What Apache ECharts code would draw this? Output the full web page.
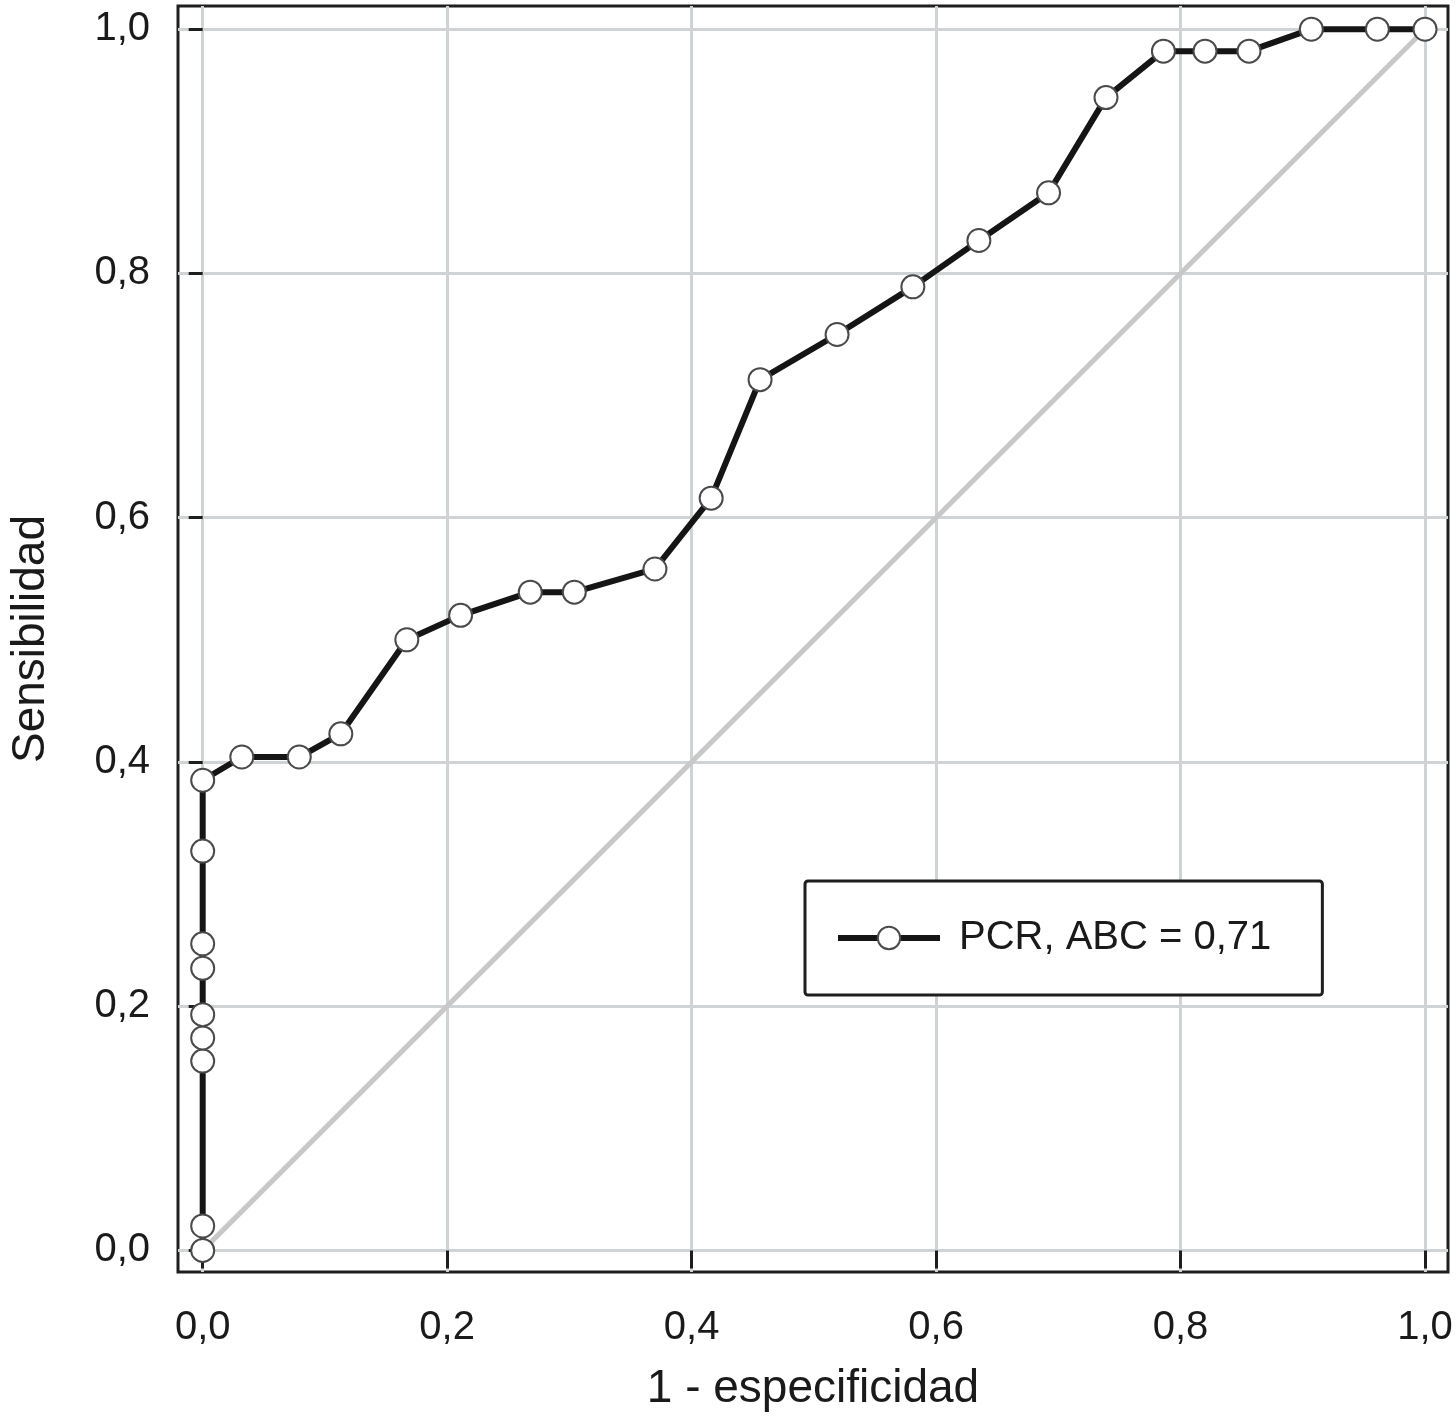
<!DOCTYPE html>
<html>
<head>
<meta charset="utf-8">
<script src="https://cdn.jsdelivr.net/npm/echarts@6/dist/echarts.min.js"></script>
<style>
html,body{margin:0;padding:0;background:#fff;}
#chart{width:1456px;height:1417px;}
</style>
</head>
<body>
<div id="chart"></div>
<script>
// 1 - especificidad (x) and Sensibilidad (y) for the PCR ROC curve
const fpr = [0, 0, 0, 0, 0, 0, 0, 0, 0,
  0.032, 0.079, 0.113, 0.167, 0.211, 0.268, 0.304, 0.370, 0.416, 0.456,
  0.519, 0.581, 0.635, 0.692, 0.739, 0.786, 0.820, 0.856, 0.907, 0.961, 1.0];
const tpr = [0, 0.020, 0.155, 0.174, 0.193, 0.231, 0.251, 0.327, 0.385,
  0.404, 0.404, 0.423, 0.500, 0.520, 0.539, 0.539, 0.558, 0.616, 0.713,
  0.750, 0.789, 0.827, 0.866, 0.944, 0.982, 0.982, 0.982, 1.0, 1.0, 1.0];
const refX = [0, 1];
const refY = [0, 1];
const tickValues = [0, 0.2, 0.4, 0.6, 0.8, 1.0];
const tickLabels = ['0,0', '0,2', '0,4', '0,6', '0,8', '1,0'];
const seriesName = 'PCR, ABC = 0,71';
const xTitle = '1 - especificidad';
const yTitle = 'Sensibilidad';

const rocData = fpr.map((x, i) => [x, tpr[i]]);
const refData = refX.map((x, i) => [x, refY[i]]);
const fmt = v => {
  const i = tickValues.findIndex(t => Math.abs(t - v) < 1e-6);
  return i >= 0 ? tickLabels[i] : '';
};
const FONT = 'Liberation Sans, Arial, Helvetica, sans-serif';
const gridColor = '#d0d3d6';

const chart = echarts.init(document.getElementById('chart'), null, {renderer: 'canvas'});
chart.setOption({
  animation: false,
  backgroundColor: '#ffffff',
  grid: {
    left: 176, right: 8, top: 6, bottom: 143,
    show: true, borderColor: '#1e1e1e', borderWidth: 3, backgroundColor: 'transparent'
  },
  legend: {
    data: [seriesName],
    left: 805, top: 881,
    padding: [37, 51, 37, 30],
    itemWidth: 102, itemHeight: 28,
    borderColor: '#1e1e1e', borderWidth: 3, borderRadius: 3,
    backgroundColor: '#ffffff',
    lineStyle: {color: '#151515', width: 6},
    itemStyle: {color: '#ffffff', borderColor: '#4a4a4a', borderWidth: 2},
    textStyle: {fontSize: 40, fontFamily: FONT, color: '#1a1a1a', padding: [0, 0, 0, 14]}
  },
  xAxis: {
    type: 'value', min: -0.0202, max: 1.0188,
    name: xTitle, nameLocation: 'middle', nameGap: 94,
    nameTextStyle: {fontSize: 46, fontFamily: FONT, color: '#1a1a1a'},
    axisLine: {show: false},
    axisTick: {show: true, inside: false, length: 18, customValues: tickValues,
      lineStyle: {color: '#1e1e1e', width: 3}},
    axisLabel: {customValues: tickValues, formatter: fmt, margin: 36,
      fontSize: 40, fontFamily: FONT, color: '#1a1a1a'},
    splitLine: {show: true, lineStyle: {color: gridColor, width: 3}}
  },
  yAxis: {
    type: 'value', min: -0.0177, max: 1.019,
    name: yTitle, nameLocation: 'middle', nameGap: 124,
    nameTextStyle: {fontSize: 46, fontFamily: FONT, color: '#1a1a1a'},
    axisLine: {show: false},
    axisTick: {show: true, inside: false, length: 14, customValues: tickValues,
      lineStyle: {color: '#1e1e1e', width: 3}},
    axisLabel: {customValues: tickValues, formatter: fmt, margin: 28,
      fontSize: 40, fontFamily: FONT, color: '#1a1a1a'},
    splitLine: {show: true, lineStyle: {color: gridColor, width: 3}}
  },
  series: [
    {
      name: 'ref', type: 'line', data: refData, symbol: 'none', silent: true,
      lineStyle: {color: '#c8c8c8', width: 5}, z: 1
    },
    {
      name: seriesName, type: 'line', data: rocData,
      symbol: 'circle', symbolSize: 23,
      lineStyle: {color: '#151515', width: 6},
      itemStyle: {color: '#ffffff', borderColor: '#4a4a4a', borderWidth: 2},
      z: 3
    }
  ]
});
</script>
</body>
</html>
